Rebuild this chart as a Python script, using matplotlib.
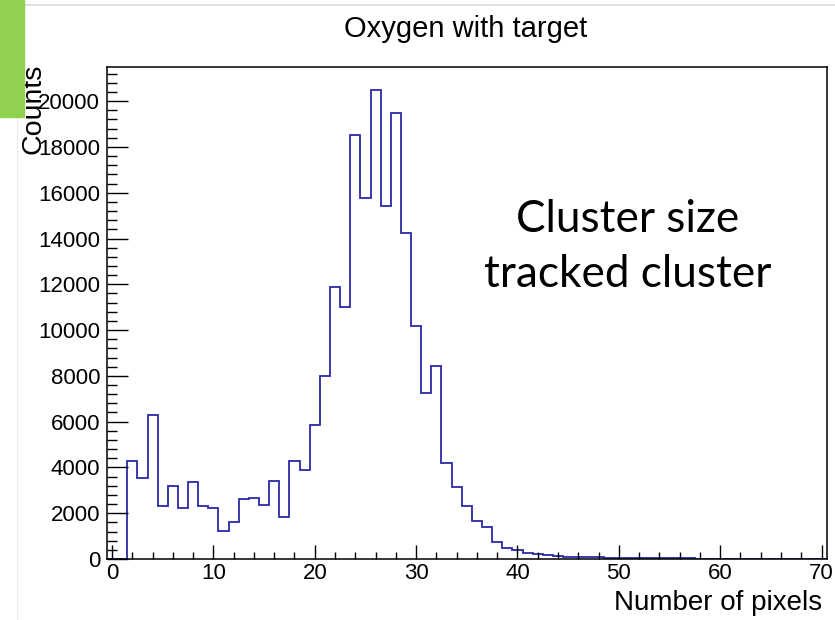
"""Cluster-size histogram for tracked clusters, oxygen beam with target."""

import matplotlib

matplotlib.use("Agg")
import matplotlib.pyplot as plt
from matplotlib.lines import Line2D
from matplotlib.patches import Rectangle
from matplotlib.ticker import MultipleLocator
import numpy as np

# one bin per pixel count, bins centred on integers 0..70
pixel_bins = np.arange(0, 71)
counts = [
    0, 0, 4270, 3540, 6290, 2330, 3200, 2240, 3360, 2330,
    2230, 1240, 1600, 2620, 2670, 2380, 3400, 1820, 4300, 3870,
    5870, 8010, 11880, 11020, 18540, 15770, 20470, 15400, 19490, 14230,
    10190, 7240, 8420, 4190, 3150, 2330, 1680, 1380, 760, 480,
    390, 256, 213, 160, 130, 105, 90, 80, 70, 62,
    55, 48, 42, 37, 33, 30, 27, 24, 21, 19,
    17, 15, 13, 12, 11, 10, 9, 8, 7, 6,
    5,
]

title = "Oxygen with target"
x_title = "Number of pixels"
y_title = "Counts"
note = "Cluster size\ntracked cluster"

ROOT_FONT = ["Liberation Sans", "DejaVu Sans"]
NOTE_FONT = ["Lato", "DejaVu Sans"]
LINE_BLUE = "#2a2aaa"

fig = plt.figure(figsize=(8.35, 6.2), dpi=100, facecolor="white")
ax = fig.add_axes([0.1281, 0.0984, 0.990 - 0.1281, 0.892 - 0.0984])

edges = np.append(pixel_bins - 0.5, pixel_bins[-1] + 0.5)
ax.stairs(counts, edges, color=LINE_BLUE, linewidth=1.3, baseline=0)

ax.set_xlim(edges[0], edges[-1])
ax.set_ylim(0, 1.05 * max(counts))

ax.xaxis.set_major_locator(MultipleLocator(10))
ax.xaxis.set_minor_locator(MultipleLocator(2))
ax.yaxis.set_major_locator(MultipleLocator(2000))
ax.yaxis.set_minor_locator(MultipleLocator(400))
ax.tick_params(axis="x", which="major", direction="in", length=10, width=1.0, pad=3)
ax.tick_params(axis="x", which="minor", direction="in", length=5, width=1.0)
ax.tick_params(axis="y", which="major", direction="in", length=15, width=1.0, pad=5)
ax.tick_params(axis="y", which="minor", direction="in", length=7.5, width=1.0)
for label in ax.get_xticklabels() + ax.get_yticklabels():
    label.set_family(ROOT_FONT)
    label.set_fontsize(16)
for spine in ax.spines.values():
    spine.set_linewidth(1.1)

fig.text(0.558, 0.953, title, ha="center", va="center", fontsize=21, family=ROOT_FONT)
fig.text(0.985, 0.027, x_title, ha="right", va="center", fontsize=20, family=ROOT_FONT)
fig.text(0.040, 0.897, y_title, ha="center", va="top", rotation=90, fontsize=20.5, family=ROOT_FONT)
ax.text(0.724, 0.634, note, transform=ax.transAxes, ha="center", va="center",
        fontsize=31.8, family=NOTE_FONT, linespacing=1.42)

# slide furniture: green marker tab and thin frame lines
fig.add_artist(Rectangle((0, 1 - 117 / 620), 24 / 835, 117 / 620,
                         transform=fig.transFigure, color="#92d050", zorder=5))
fig.add_artist(Line2D([17 / 835, 1], [1 - 5 / 620, 1 - 5 / 620],
                      transform=fig.transFigure, color="#d9d9df", linewidth=1.2))
fig.add_artist(Line2D([17 / 835, 17 / 835], [0, 1 - 5 / 620],
                      transform=fig.transFigure, color="#ececf0", linewidth=0.8))

fig.savefig("out.png", dpi=100, facecolor=fig.get_facecolor())
